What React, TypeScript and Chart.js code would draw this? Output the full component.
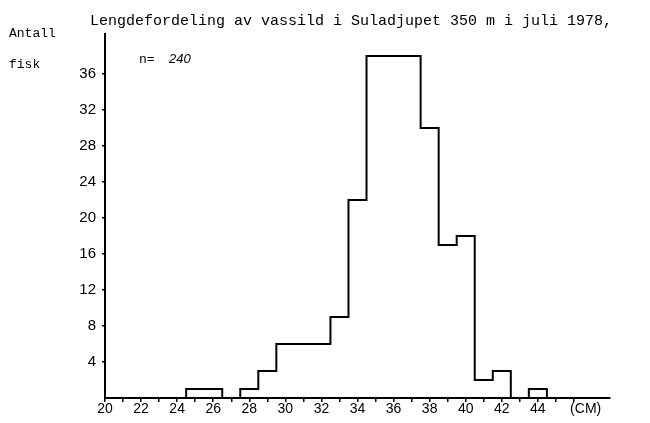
import { useEffect, useRef } from "react";
import { Chart, registerables } from "chart.js";

Chart.register(...registerables);

// Length classes (cm, class centre) and number of fish in each class
const lengthClasses = [25, 26, 27, 28, 29, 30, 31, 32, 33, 34, 35, 36, 37, 38, 39, 40, 41, 42, 43, 44];
const fishCounts = [1, 1, 0, 1, 3, 6, 6, 6, 9, 22, 38, 38, 38, 30, 17, 18, 2, 3, 0, 1];

const xTickValues = [20, 21, 22, 23, 24, 25, 26, 27, 28, 29, 30, 31, 32, 33, 34, 35, 36, 37, 38, 39, 40, 41, 42, 43, 44, 45, 46];
const xLabelValues = [20, 22, 24, 26, 28, 30, 32, 34, 36, 38, 40, 42, 44];
const yTickValues = [4, 8, 12, 16, 20, 24, 28, 32, 36];

const titleText = "Lengdefordeling av vassild i Suladjupet 350 m i juli 1978,";
const yTitleLines = ["Antall", "fisk"];
const sampleLabel = "n=";
const sampleSize = "240";
const unitLabel = "(CM)";
const unitPos = 46.65;

const MONO = '"Liberation Mono", "DejaVu Sans Mono", monospace';
const SANS = '"Liberation Sans", Arial, sans-serif';

export default function App() {
  const canvasRef = useRef<HTMLCanvasElement | null>(null);

  useEffect(() => {
    const canvas = canvasRef.current;
    if (!canvas) return;

    // Build histogram outline from the class data
    const pts: { x: number; y: number }[] = [];
    pts.push({ x: lengthClasses[0] - 0.5, y: 0 });
    lengthClasses.forEach((c, i) => {
      pts.push({ x: c - 0.5, y: fishCounts[i] });
      pts.push({ x: c + 0.5, y: fishCounts[i] });
    });
    pts.push({ x: lengthClasses[lengthClasses.length - 1] + 0.5, y: 0 });

    const textPlugin = {
      id: "texts",
      afterDraw(chart: any) {
        const ctx = chart.ctx;
        ctx.save();
        ctx.fillStyle = "#000";
        ctx.textBaseline = "alphabetic";
        ctx.textAlign = "left";
        ctx.font = `15px ${MONO}`;
        ctx.fillText(titleText, 90, 25);
        ctx.font = `13px ${MONO}`;
        ctx.fillText(yTitleLines[0], 9, 37);
        ctx.fillText(yTitleLines[1], 9, 68);
        ctx.fillText(sampleLabel, 139, 63);
        ctx.font = `italic 13px ${SANS}`;
        ctx.fillText(sampleSize, 169, 63);
        ctx.restore();
      },
    };

    const chart = new Chart(canvas, {
      type: "line",
      data: {
        datasets: [
          {
            data: pts,
            borderColor: "#000",
            borderWidth: 2,
            pointRadius: 0,
            fill: false,
            tension: 0,
          },
        ],
      },
      options: {
        responsive: false,
        animation: false,
        devicePixelRatio: 1,
        layout: { padding: { top: 33.5, right: 40, bottom: 0, left: 0 } },
        plugins: { legend: { display: false }, tooltip: { enabled: false }, title: { display: false } },
        scales: {
          x: {
            type: "linear",
            min: 20,
            max: 48,
            afterBuildTicks: (s: any) => {
              s.ticks = [...xTickValues, unitPos].map((v) => ({ value: v }));
            },
            afterFit: (s: any) => {
              s.height = 25;
            },
            ticks: {
              autoSkip: false,
              maxRotation: 0,
              padding: -1,
              color: "#000",
              font: { family: SANS, size: 14 },
              callback: (v: any) =>
                v === unitPos ? unitLabel : xLabelValues.includes(v) ? String(v) : "",
            },
            grid: {
              drawOnChartArea: false,
              drawTicks: true,
              tickLength: 4,
              lineWidth: 1.5,
              color: (c: any) => (c.tick && c.tick.value === unitPos ? "rgba(0,0,0,0)" : "#000"),
            },
            border: { display: true, color: "#000", width: 2 },
          },
          y: {
            type: "linear",
            min: 0,
            max: 40.5,
            afterBuildTicks: (s: any) => {
              s.ticks = yTickValues.map((v) => ({ value: v }));
            },
            afterFit: (s: any) => {
              s.width = 105;
            },
            ticks: {
              padding: 6,
              color: "#000",
              font: { family: SANS, size: 15 },
              callback: (v: any) => String(v),
            },
            grid: {
              drawOnChartArea: false,
              drawTicks: true,
              tickLength: 3,
              lineWidth: 1.5,
              color: "#000",
            },
            border: { display: true, color: "#000", width: 2 },
          },
        },
      },
      plugins: [textPlugin],
    });

    return () => chart.destroy();
  }, []);

  return (
    <div style={{ position: "absolute", left: 0, top: 0, width: 650, height: 423, background: "#fff" }}>
      <canvas ref={canvasRef} width={650} height={423} style={{ display: "block" }} />
    </div>
  );
}
